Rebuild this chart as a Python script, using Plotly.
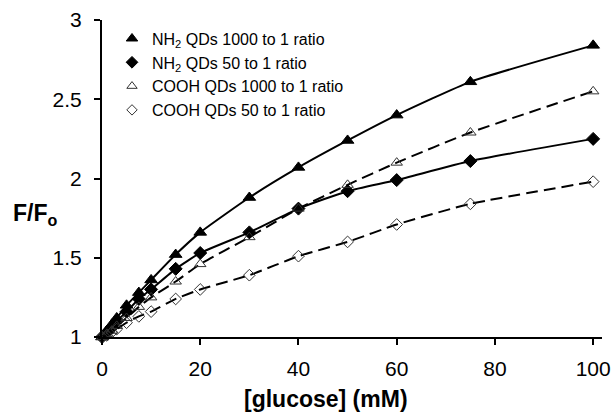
import plotly.graph_objects as go

glucose = [0, 1, 2, 3, 5, 7.5, 10, 15, 20, 30, 40, 50, 60, 75, 100]
nh2_1000 = [1.00, 1.04, 1.08, 1.12, 1.20, 1.28, 1.36, 1.52, 1.66, 1.88, 2.07, 2.24, 2.40, 2.61, 2.84]
nh2_50 = [1.00, 1.03, 1.06, 1.10, 1.16, 1.24, 1.30, 1.43, 1.53, 1.66, 1.81, 1.92, 1.99, 2.11, 2.25]
cooh_1000 = [1.00, 1.02, 1.04, 1.07, 1.12, 1.19, 1.25, 1.35, 1.46, 1.63, 1.81, 1.96, 2.10, 2.29, 2.55]
cooh_50 = [1.00, 1.01, 1.03, 1.05, 1.09, 1.13, 1.16, 1.24, 1.30, 1.39, 1.51, 1.60, 1.71, 1.84, 1.98]

series = [
    ("NH<sub>2</sub> QDs 1000 to 1 ratio", nh2_1000, "triangle-up", "solid", 11),
    ("NH<sub>2</sub> QDs 50 to 1 ratio", nh2_50, "diamond", "solid", 10),
    ("COOH QDs 1000 to 1 ratio", cooh_1000, "triangle-up-open", "12px,6px", 10),
    ("COOH QDs 50 to 1 ratio", cooh_50, "diamond-open", "12px,6px", 9),
]

FONT = "Liberation Sans, Arial, sans-serif"
fig = go.Figure()
for name, ys, sym, dash, sz in series:
    mcol = "#000" if "open" not in sym else "#333"
    fig.add_trace(go.Scatter(
        x=glucose, y=ys, mode="lines+markers", showlegend=False,
        line=dict(color="#000", width=2, dash=dash, shape="spline", smoothing=0.5),
        marker=dict(symbol=sym, size=sz, color=mcol, line=dict(color=mcol, width=1)),
        cliponaxis=False,
    ))
for name, ys, sym, dash, sz in series:
    mcol = "#000" if "open" not in sym else "#333"
    fig.add_trace(go.Scatter(
        x=[None], y=[None], mode="markers", name=name,
        marker=dict(symbol=sym, size=sz - 1, color=mcol, line=dict(color=mcol, width=1)),
    ))

fig.update_layout(
    width=614, height=415,
    margin=dict(l=102, r=12, t=20, b=78, autoexpand=False),
    paper_bgcolor="white", plot_bgcolor="white",
    font=dict(family=FONT, color="#000", size=21),
    showlegend=True,
    legend=dict(x=0.02, y=0.995, xanchor="left", yanchor="top",
                font=dict(family=FONT, size=16, color="#000"),
                bgcolor="rgba(0,0,0,0)", itemwidth=30, tracegroupgap=0),
    xaxis=dict(range=[0, 101.8], tickvals=[0, 20, 40, 60, 80, 100],
               showline=True, linecolor="#000", linewidth=2,
               ticks="outside", ticklen=6, tickwidth=2, tickcolor="#000",
               showgrid=False, zeroline=False, automargin=False,
               ticklabelstandoff=6,
               tickfont=dict(family=FONT, size=21, color="#000")),
    yaxis=dict(range=[1, 3], tickvals=[1, 1.5, 2, 2.5, 3], ticktext=["1", "1.5", "2", "2.5", "3"],
               showline=True, linecolor="#000", linewidth=2,
               ticks="outside", ticklen=6, tickwidth=2, tickcolor="#000",
               showgrid=False, zeroline=False, automargin=False,
               ticklabelstandoff=8,
               tickfont=dict(family=FONT, size=21, color="#000")),
    annotations=[
        dict(text="<b>[glucose] (mM)</b>", x=(326 - 102) / 500, y=(337 - 399) / 317,
             xref="paper", yref="paper", showarrow=False, xanchor="center", yanchor="middle",
             font=dict(family=FONT, size=23, color="#000")),
        dict(text="<b>F/F<sub>o</sub></b>", x=(35 - 102) / 500, y=(337 - 215) / 317,
             xref="paper", yref="paper", showarrow=False, xanchor="center", yanchor="middle",
             font=dict(family=FONT, size=23, color="#000")),
    ],
)

fig.write_html("out.html")
